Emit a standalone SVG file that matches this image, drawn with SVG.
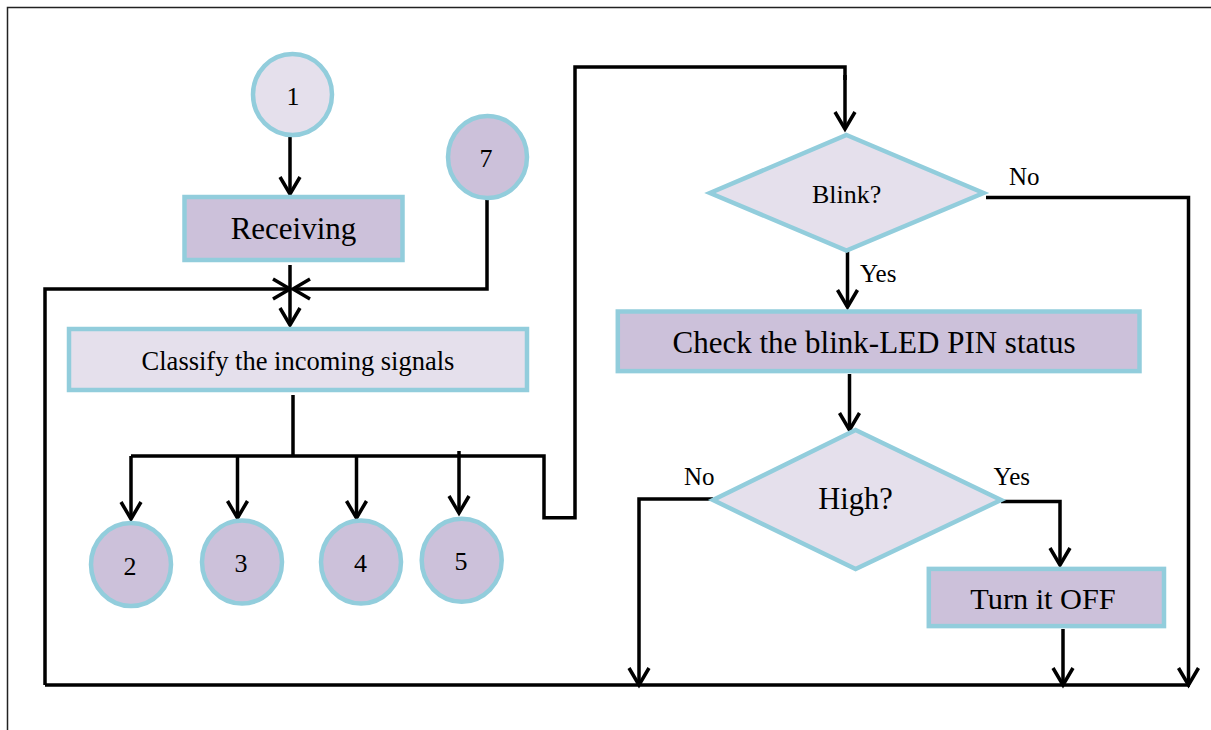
<svg xmlns="http://www.w3.org/2000/svg" width="1211" height="730" viewBox="0 0 1211 730">
<style>
.box{stroke:#92CDDC;stroke-width:4.5}
.dark{fill:#CCC1DA}
.light{fill:#E5E0EC}
.t{font-family:"Liberation Serif","Times New Roman",serif;fill:#000;text-anchor:middle}
.lbl{font-family:"Liberation Serif","Times New Roman",serif;fill:#000;font-size:25px}
.c{fill:none;stroke:#000;stroke-width:3.5;stroke-linejoin:miter}
.a{marker-end:url(#arr)}
</style>
<defs>
<marker id="arr" markerUnits="userSpaceOnUse" orient="auto" refX="0" refY="0" markerWidth="40" markerHeight="40" viewBox="-20 -20 40 40" overflow="visible">
<path d="M-17,-10 L0,0 L-17,10" fill="none" stroke="#000" stroke-width="3.5"/>
</marker>
</defs>
<rect width="1211" height="730" fill="#fff"/>
<g id="frame" fill="none" stroke="#222" stroke-width="1.5">
<path d="M7.5,730 V7.5 H1211"/>
</g>
<g id="connectors">
<path class="c a" d="M290,137 V194"/>
<path class="c a" d="M290,265 V325"/>
<path class="c a" d="M45,685 V289 H290"/>
<path class="c a" d="M487,200 V289 H293"/>
<path class="c" d="M293,395 V456"/>
<path class="c" d="M131,456 H544 V517.7 H575 V67 H845 V80"/>
<path class="c a" d="M845,75 V129"/>
<path class="c a" d="M131,456 V519"/>
<path class="c a" d="M237.5,456 V518"/>
<path class="c a" d="M356.5,456 V518"/>
<path class="c a" d="M459,451 V513"/>
<path class="c a" d="M847.5,251 V307"/>
<path class="c a" d="M986,197.5 H1188.5 V685"/>
<path class="c a" d="M849.5,374 V430"/>
<path class="c a" d="M713,499 H639 V685"/>
<path class="c a" d="M1001,501.5 H1060 V565"/>
<path class="c a" d="M1063,629 V685"/>
<path class="c" d="M45,685 H1190"/>
</g>
<g id="n1"><ellipse class="box light" cx="292.5" cy="94.5" rx="39.5" ry="40.5"/><text class="t" x="293" y="105" font-size="26">1</text></g>
<g id="n7"><ellipse class="box dark" cx="487.5" cy="157" rx="39.5" ry="41"/><text class="t" x="486" y="167" font-size="26">7</text></g>
<g id="receiving"><rect class="box dark" x="184.5" y="197" width="218" height="63"/><text class="t" x="293.5" y="238.5" font-size="31">Receiving</text></g>
<g id="classify"><rect class="box light" x="69" y="329" width="458" height="61"/><text class="t" x="298" y="370" font-size="26.5">Classify the incoming signals</text></g>
<g id="n2"><ellipse class="box dark" cx="131" cy="564.5" rx="40" ry="41.5"/><text class="t" x="130" y="575" font-size="26">2</text></g>
<g id="n3"><ellipse class="box dark" cx="242" cy="562" rx="40" ry="41.5"/><text class="t" x="241" y="572" font-size="26">3</text></g>
<g id="n4"><ellipse class="box dark" cx="361" cy="562" rx="40" ry="41.5"/><text class="t" x="360.5" y="572" font-size="26">4</text></g>
<g id="n5"><ellipse class="box dark" cx="461.7" cy="560.3" rx="40" ry="41.5"/><text class="t" x="461" y="570" font-size="26">5</text></g>
<g id="blink"><polygon class="box light" points="846.5,135 983.5,193 846.5,250.5 710,193"/><text class="t" x="846.7" y="202.7" font-size="26">Blink?</text></g>
<g id="check"><rect class="box dark" x="617.8" y="311.5" width="521.7" height="59.6"/><text class="t" x="874" y="353.3" font-size="31">Check the blink-LED PIN status</text></g>
<g id="high"><polygon class="box light" points="855.6,430 1001,500 855.6,569 713,500"/><text class="t" x="855.5" y="509.3" font-size="30.5">High?</text></g>
<g id="turnoff"><rect class="box dark" x="928.8" y="568.9" width="235.2" height="57.2"/><text class="t" x="1043" y="609.3" font-size="30.3">Turn it OFF</text></g>
<g id="labels">
<text class="lbl" x="1009" y="185">No</text>
<text class="lbl" x="860" y="281.7">Yes</text>
<text class="lbl" x="684" y="485">No</text>
<text class="lbl" x="993.6" y="485">Yes</text>
</g>
</svg>
